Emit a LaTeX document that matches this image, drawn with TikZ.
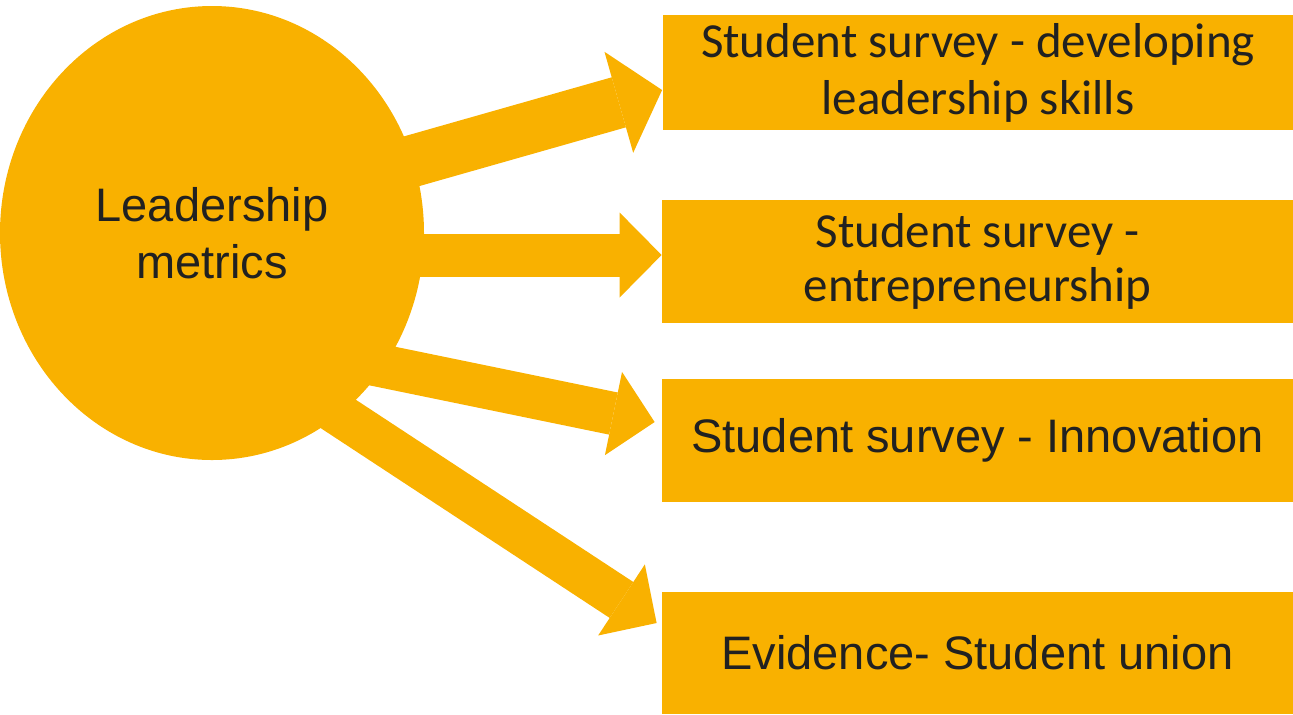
\documentclass[tikz,border=0pt]{standalone}
\usepackage{fontspec}
\setmainfont{Liberation Sans}
\newfontfamily\calibrifont{Carlito}
\usetikzlibrary{shapes.geometric,arrows.meta,backgrounds}
\definecolor{metricorange}{RGB}{249,177,0}
\definecolor{metrictext}{RGB}{33,33,33}

\begin{document}
\begin{tikzpicture}[x=0.5pt,y=-0.5pt,
    metricbox/.style={fill=metricorange, inner sep=0pt, minimum width=315.5pt, align=center, text=metrictext, font=\fontsize{23.5}{28.5}\selectfont},
    bigarrow/.style={color=metricorange, line width=21.5pt, -{Triangle[length=21pt,width=42.5pt,line width=0pt]}}]
  \useasboundingbox (0,0) rectangle (1293,714);

  \node[ellipse, fill=metricorange, inner sep=0pt, minimum width=212pt, minimum height=227pt, align=center, text=metrictext, font=\fontsize{23.5}{28.5}\selectfont] (lead) at (212,233) {Leadership\\metrics};

  \node[metricbox, minimum height=57.5pt, font=\calibrifont\fontsize{24.5}{28.5}\selectfont] (dev) at (978,72.5) {Student survey - developing\\leadership skills};
  \node[metricbox, minimum height=61.5pt, font=\calibrifont\fontsize{24.5}{27}\selectfont] (entre) at (977.5,261.5) {Student survey -\\entrepreneurship};
  \node[metricbox, minimum height=61.5pt] (innov) at (977.5,440) {Student survey - Innovation};
  \node[metricbox, minimum height=61pt] (union) at (977.5,653) {Evidence- Student union};

  \coordinate (hub) at ([yshift=-49pt]lead.center);

  \begin{scope}[on background layer]
    \draw[bigarrow, line width=26pt, -{Triangle[length=22.5pt,width=52.5pt,line width=0pt]}] ([yshift=7.5pt]lead.center) -- ([yshift=-8.75pt]dev.west);
    \draw[bigarrow] ([yshift=-11pt]lead.center) -- ([yshift=3.25pt]entre.west);
    \draw[bigarrow] (hub) -- ([xshift=-3.5pt,yshift=9pt]innov.west);
    \draw[bigarrow] (hub) -- ([xshift=-2.5pt,yshift=15pt]union.west);
  \end{scope}
\end{tikzpicture}
\end{document}
